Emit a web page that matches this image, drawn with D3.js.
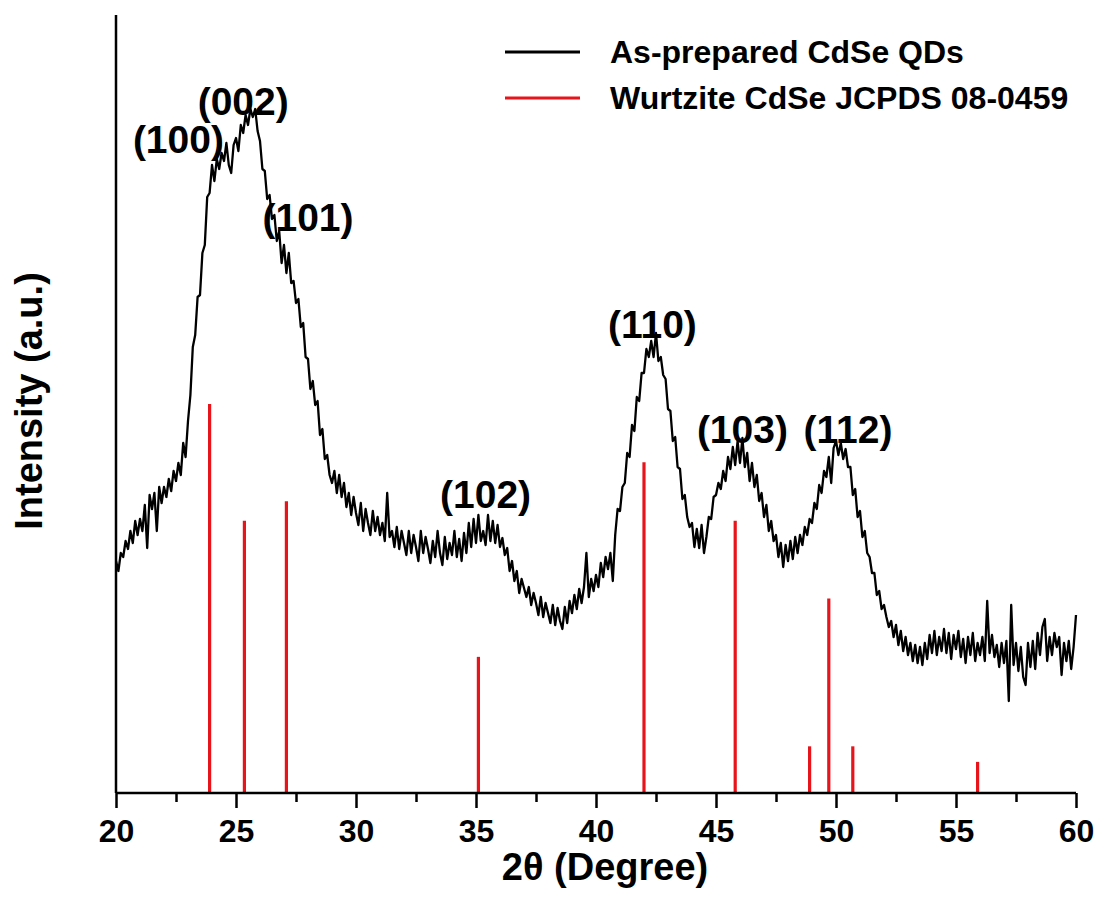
<!DOCTYPE html>
<html>
<head>
<meta charset="utf-8">
<script src="https://cdn.jsdelivr.net/npm/d3@7/dist/d3.min.js"></script>
<style>
  html, body { margin: 0; padding: 0; background: #fff; }
  svg { display: block; font-family: "Liberation Sans", Arial, sans-serif; font-weight: bold; }
</style>
</head>
<body>
<div id="chart"></div>
<script>
// 2theta scan, 20..60 deg, step 0.1
const twoThetaStart = 20, twoThetaStep = 0.1;
const intensity = [
  232,222,240,236,252,244,262,250,272,258,
  274,262,288,245,298,284,300,262,306,290,
  306,296,314,302,322,312,330,318,350,336,
  372,398,446,458,496,498,540,548,596,600,
  628,612,634,624,640,632,650,628,620,648,
  655,642,668,660,678,668,684,676,684,662,
  652,624,622,594,598,574,578,552,562,530,
  548,520,540,510,512,490,494,466,470,436,
  434,404,412,388,392,358,364,334,338,318,
  310,322,300,318,296,310,286,300,278,296,
  280,268,290,262,284,270,258,282,262,276,
  258,270,252,300,256,262,246,266,244,262,
  250,238,262,240,258,246,232,262,240,256,
  244,230,252,236,262,240,228,256,234,250,
  238,262,236,254,232,260,240,270,246,274,
  250,278,252,262,248,278,252,272,250,268,
  246,255,238,245,222,232,212,222,200,214,
  205,196,206,188,200,190,178,196,176,190,
  180,170,188,168,185,172,164,186,170,192,
  180,198,184,204,190,206,240,196,214,202,
  218,206,230,216,236,224,240,212,258,284,
  282,306,310,340,336,368,362,396,392,420,
  420,444,436,452,436,460,432,436,418,414,
  384,382,352,356,326,324,294,298,276,266,
  270,246,264,245,268,240,256,276,274,296,
  298,310,304,322,312,336,324,346,328,352,
  330,355,326,340,312,330,306,318,292,300,
  276,288,262,272,252,258,236,250,226,248,
  232,252,234,256,240,258,248,266,258,274,
  270,290,284,308,300,322,316,336,310,345,
  352,338,350,334,344,326,326,298,304,276,
  282,256,262,240,236,220,220,198,202,184,
  188,176,166,172,156,168,148,162,142,156,
  138,150,132,148,130,146,128,150,134,158,
  140,162,138,156,142,164,140,160,134,158,
  144,162,136,154,130,156,138,160,132,150,
  138,156,132,192,140,158,136,148,126,150,
  130,152,92,188,128,150,122,146,116,108,
  150,126,152,124,160,138,166,174,132,156,
  138,160,146,156,118,150,132,152,124,146,
  178
];

// Wurtzite CdSe, JCPDS 08-0459
const refHkl = ["(100)","(002)","(101)","(102)","(110)","(103)","(200)","(112)","(201)","(202)"];
const refTwoTheta = [23.9, 25.35, 27.1, 35.1, 42.0, 45.8, 48.9, 49.7, 50.7, 55.9];
const refIntensity = [100, 70, 75, 35, 85, 70, 12, 50, 12, 8];

// peak labels on the measured pattern
const peakNames = ["(100)","(002)","(101)","(102)","(110)","(103)","(112)"];
const peakAt = [22.6, 25.3, 28.0, 35.4, 42.35, 46.1, 50.5];
const peakLevel = [640, 678, 562, 285, 455, 350, 350];

const xTicks = [20, 25, 30, 35, 40, 45, 50, 55, 60];
const xMinorTicks = [22.5, 27.5, 32.5, 37.5, 42.5, 47.5, 52.5, 57.5];
const seriesNames = ["As-prepared CdSe QDs", "Wurtzite CdSe JCPDS 08-0459"];
const seriesColors = ["#000000", "#e8141c"];

const W = 1099, H = 915;
const margin = {top: 15, right: 23, bottom: 122, left: 116};
const width = W - margin.left - margin.right;
const height = H - margin.top - margin.bottom;

const svg = d3.select("#chart").append("svg")
  .attr("width", W).attr("height", H);
const g = svg.append("g")
  .attr("transform", `translate(${margin.left},${margin.top})`);

const x = d3.scaleLinear().domain([20, 60]).range([0, width]);
const y = d3.scaleLinear().domain([0, height]).range([height, 0]);
const stickScale = 3.89; // 100 % reference peak -> intensity units

// reference sticks
g.selectAll(".stick")
  .data(refTwoTheta.map((t, i) => ({t, I: refIntensity[i]})))
  .enter().append("line")
  .attr("class", "stick")
  .attr("x1", d => x(d.t)).attr("x2", d => x(d.t))
  .attr("y1", y(0)).attr("y2", d => y(d.I * stickScale))
  .attr("stroke", seriesColors[1]).attr("stroke-width", 3.2);

// measured pattern
const pts = intensity.map((v, i) => [twoThetaStart + i * twoThetaStep, v]);
g.append("path")
  .datum(pts)
  .attr("fill", "none")
  .attr("stroke", seriesColors[0])
  .attr("stroke-width", 2.3)
  .attr("stroke-linejoin", "round")
  .attr("d", d3.line().x(d => x(d[0])).y(d => y(d[1])));

// x axis: minor and major ticks in separate groups
const minorAxis = g.append("g").attr("transform", `translate(0,${height})`)
  .call(d3.axisBottom(x).tickValues(xMinorTicks).tickSize(9).tickFormat(""));
const majorAxis = g.append("g").attr("transform", `translate(0,${height})`)
  .call(d3.axisBottom(x).tickValues(xTicks).tickSize(15).tickPadding(11).tickFormat(d3.format("d")));
[minorAxis, majorAxis].forEach(a => {
  a.select("path.domain").remove();
  a.selectAll("line").attr("stroke", "#000").attr("stroke-width", 2.5);
});
majorAxis.selectAll("text")
  .attr("font-size", 32).attr("font-weight", "bold")
  .attr("font-family", "Liberation Sans, Arial, sans-serif").attr("fill", "#000");
g.append("line")
  .attr("x1", 0).attr("x2", width).attr("y1", height).attr("y2", height)
  .attr("stroke", "#000").attr("stroke-width", 2.5);

// y axis (no ticks)
g.append("line")
  .attr("x1", 0).attr("x2", 0).attr("y1", 0).attr("y2", height)
  .attr("stroke", "#000").attr("stroke-width", 2.5);

// axis titles
svg.append("text")
  .attr("x", 605).attr("y", 880)
  .attr("text-anchor", "middle").attr("font-size", 38)
  .text("2θ (Degree)");
svg.append("text")
  .attr("transform", `translate(42,401) rotate(-90)`)
  .attr("text-anchor", "middle").attr("font-size", 38)
  .text("Intensity (a.u.)");

// peak labels
g.selectAll(".peak")
  .data(peakNames.map((n, i) => ({n, t: peakAt[i], v: peakLevel[i]})))
  .enter().append("text")
  .attr("class", "peak")
  .attr("x", d => x(d.t)).attr("y", d => y(d.v))
  .attr("text-anchor", "middle").attr("font-size", 39)
  .text(d => d.n);

// legend
const legend = svg.append("g").attr("transform", "translate(505,52)");
seriesNames.forEach((name, i) => {
  const row = legend.append("g").attr("transform", `translate(0,${i * 46})`);
  row.append("line").attr("x1", 0).attr("x2", 75)
    .attr("stroke", seriesColors[i]).attr("stroke-width", 3);
  row.append("text").attr("x", 105).attr("y", 11)
    .attr("font-size", 32).text(name);
});
</script>
</body>
</html>
